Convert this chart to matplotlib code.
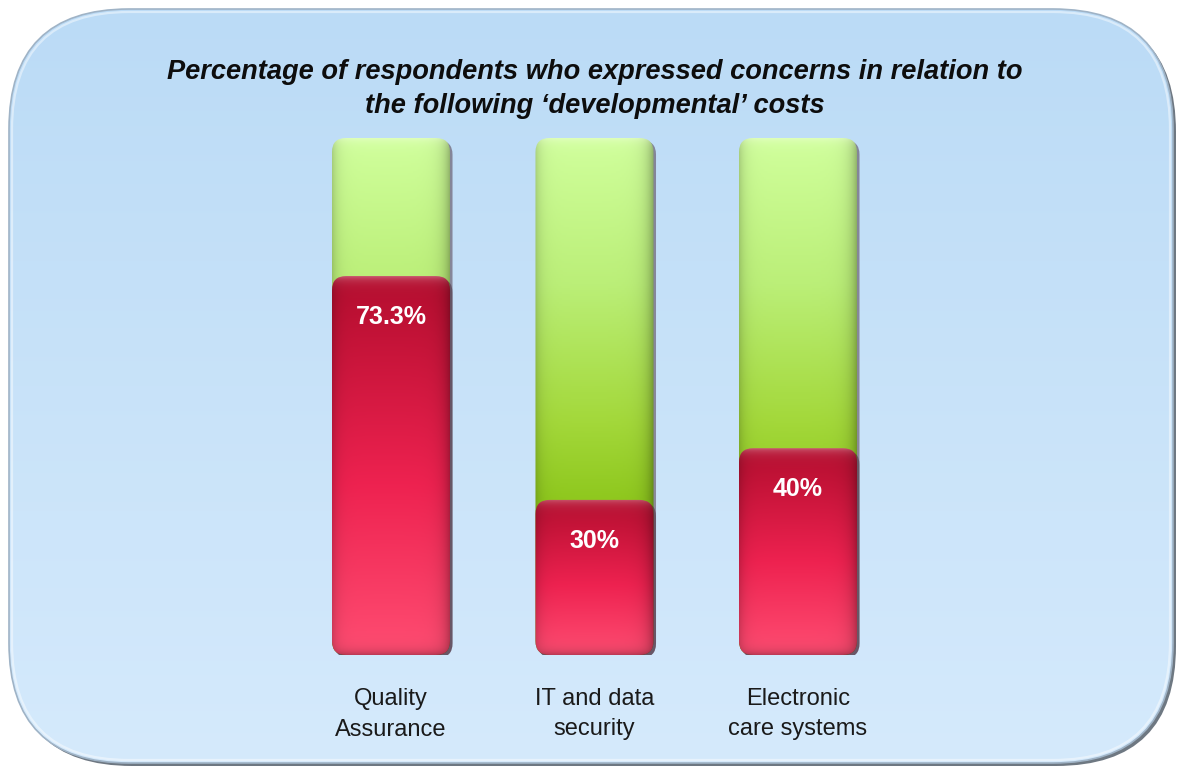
import numpy as np
import matplotlib
matplotlib.use("Agg")
import matplotlib.pyplot as plt
from matplotlib.patches import FancyBboxPatch
from matplotlib.colors import LinearSegmentedColormap, to_rgb

# ---- data -------------------------------------------------------------
title = ("Percentage of respondents who expressed concerns in relation to\n"
         "the following \u2018developmental\u2019 costs")
categories = ["Quality\nAssurance", "IT and data\nsecurity", "Electronic\ncare systems"]
concern_pct = [73.3, 30.0, 40.0]
value_labels = ["73.3%", "30%", "40%"]
total_pct = 100.0

plt.rcParams["font.family"] = ["Liberation Sans", "DejaVu Sans"]

W, H = 1178, 770
fig = plt.figure(figsize=(W / 100, H / 100), dpi=100)
fig.patch.set_facecolor("white")

# ---- rounded panel background (pixel coordinates) ---------------------
bg = fig.add_axes([0, 0, 1, 1], zorder=0)
bg.set_xlim(0, W)
bg.set_ylim(H, 0)
bg.axis("off")

px0, py0, pw, ph, rad = 9, 9, 1164, 754, 120
shadow = FancyBboxPatch((px0 + 3, py0 + 3), pw, ph,
                        boxstyle=f"round,pad=0,rounding_size={rad}",
                        fc="#55606c", ec="none", alpha=0.85, zorder=1)
bg.add_patch(shadow)
panel = FancyBboxPatch((px0, py0), pw, ph,
                       boxstyle=f"round,pad=0,rounding_size={rad}",
                       fc="none", ec="#9fb3c6", lw=1.2, zorder=3)
bg.add_patch(panel)
grad = np.linspace(0, 1, 256)[:, None]
c_top, c_bot = np.array(to_rgb("#bbdbf6")), np.array(to_rgb("#d5eafc"))
img = c_top[None, None, :] * (1 - grad[..., None]) + c_bot[None, None, :] * grad[..., None]
img = np.repeat(img, 4, axis=1)
im = bg.imshow(img, extent=[px0, px0 + pw, py0 + ph, py0], aspect="auto",
               origin="upper", zorder=2, interpolation="bilinear")
im.set_clip_path(FancyBboxPatch((px0, py0), pw, ph,
                                boxstyle=f"round,pad=0,rounding_size={rad}",
                                transform=bg.transData))
# soft light rim on the inner edge
rim = FancyBboxPatch((px0 + 3, py0 + 3), pw - 6, ph - 6,
                     boxstyle=f"round,pad=0,rounding_size={rad - 3}",
                     fc="none", ec="white", lw=1.6, alpha=0.45, zorder=3)
bg.add_patch(rim)
bg.set_xlim(0, W)
bg.set_ylim(H, 0)

# ---- bar axes ---------------------------------------------------------
spacing_px = 203.5
ax_left_px = 391 - spacing_px / 2
ax_w_px = spacing_px * 3
ax_bottom_px = H - 655
ax_h_px = 517
ax = fig.add_axes([ax_left_px / W, ax_bottom_px / H, ax_w_px / W, ax_h_px / H], zorder=5)
ax.set_xlim(-0.5, 2.5)
ax.set_ylim(0, total_pct)
ax.axis("off")
ax.patch.set_alpha(0)

bar_w = 0.58
x_per_px = 3 / ax_w_px
y_per_px = total_pct / ax_h_px
aspect = y_per_px / x_per_px
r_x = 14 * x_per_px

green_cmap = LinearSegmentedColormap.from_list(
    "g", [(0.0, "#7db60a"), (0.3, "#8fc81e"), (0.45, "#a3d83a"),
          (0.72, "#bbef78"), (1.0, "#d0ff9c")])
red_cmap = LinearSegmentedColormap.from_list(
    "r", [(0.0, "#ff4d72"), (0.45, "#ee2250"), (1.0, "#b30d2e")])


def shaded_bar(xc, bottom, top, colour_fn, z):
    x0 = xc - bar_w / 2
    box = FancyBboxPatch((x0, bottom), bar_w, top - bottom,
                         boxstyle=f"round,pad=0,rounding_size={r_x}",
                         mutation_aspect=aspect, fc="none", ec="none",
                         transform=ax.transData, zorder=z)
    # drop shadow
    sh = FancyBboxPatch((x0 + 2.5 * x_per_px, bottom - 2.5 * y_per_px), bar_w, top - bottom,
                        boxstyle=f"round,pad=0,rounding_size={r_x}",
                        mutation_aspect=aspect, fc="#3c1a28", ec="none",
                        alpha=0.45, zorder=z - 0.5)
    ax.add_patch(sh)
    ax.add_patch(box)
    hpx = (top - bottom) / y_per_px
    nr, nc = max(int(hpx), 2), 120
    v = np.linspace(0, 1, nr)[:, None]          # 0 bottom -> 1 top
    u = np.linspace(0, 1, nc)[None, :]
    base = colour_fn(v)[..., :3]
    base = np.repeat(base, nc, axis=1)
    edge = 1 - 0.18 * np.exp(-u / 0.05) - 0.32 * np.exp(-(1 - u) / 0.06)
    shade = base * edge[..., None]
    dist_top = (1 - v) * hpx
    sheen = 0.3 * np.exp(-dist_top / 5.0)
    shade = shade + (1 - shade) * sheen[..., None]
    dist_bot = v * hpx
    shade = shade * (1 - 0.25 * np.exp(-dist_bot / 5.0))[..., None]
    im = ax.imshow(np.clip(shade, 0, 1), extent=[x0, x0 + bar_w, bottom, top],
                   origin="lower", aspect="auto", zorder=z, interpolation="bilinear")
    im.set_clip_path(box)


for i, (val, lab) in enumerate(zip(concern_pct, value_labels)):
    shaded_bar(i, 0, total_pct,
               lambda v: green_cmap(v[:, 0])[:, None, :], 2)
    shaded_bar(i, 0, val,
               lambda v: red_cmap(v[:, 0])[:, None, :], 4)
    ax.annotate(lab, (i, val), xytext=(0, -41), textcoords="offset pixels",
                ha="center", va="center", color="white", fontsize=18,
                fontweight="bold", zorder=10)
    ax.annotate(categories[i], (i, 0), xytext=(0, -33), textcoords="offset pixels",
                ha="center", va="top", color="#1a1a1a", fontsize=17,
                linespacing=1.5, zorder=10, annotation_clip=False)

ax.set_xlim(-0.5, 2.5)
ax.set_ylim(0, total_pct)

fig.text(595 / W, 1 - 89 / H, title, ha="center", va="center", fontsize=19.6,
         fontweight="bold", fontstyle="italic", color="#0d0d0d", linespacing=1.38,
         zorder=10)

fig.savefig("out.png", dpi=100, facecolor="white")
